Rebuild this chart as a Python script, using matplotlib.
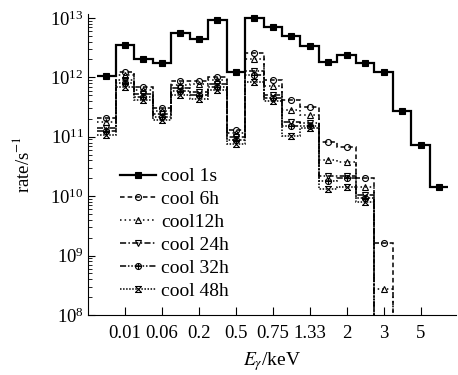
import matplotlib
matplotlib.use('Agg')
import matplotlib.pyplot as plt
import numpy as np
from matplotlib.path import Path

plt.rcParams['font.family'] = ['Liberation Serif', 'DejaVu Serif']
plt.rcParams['mathtext.fontset'] = 'stix'

# energy bin tick labels (every second bin)
tick_labels = ['0.01', '0.06', '0.2', '0.5', '0.75', '1.33', '2', '3', '5']
tick_bins = [1, 3, 5, 7, 9, 11, 13, 15, 17]

# rate per bin (s^-1)
cool_1s = [1.05e12, 3.5e12, 2.05e12, 1.75e12, 5.6e12, 4.4e12, 9.3e12, 1.23e12,
           1.0e13, 7.1e12, 5.0e12, 3.4e12, 1.8e12, 2.4e12, 1.75e12, 1.24e12,
           2.7e11, 7.2e10, 1.43e10]
cool_6h = [2.1e11, 1.24e12, 6.9e11, 3.05e11, 8.7e11, 8.7e11, 1.0e12, 1.3e11,
           2.6e12, 9.0e11, 4.2e11, 3.2e11, 8.1e10, 6.7e10, 2.0e10, 1.6e9]
cool_12h = [1.8e11, 1.1e12, 6.1e11, 2.7e11, 7.4e11, 7.7e11, 9.0e11, 1.17e11,
            2.0e12, 7.2e11, 2.8e11, 2.3e11, 4.1e10, 3.7e10, 1.4e10, 2.75e8]
cool_24h = [1.4e11, 9.0e11, 5.2e11, 2.4e11, 6.6e11, 5.7e11, 7.7e11, 1.0e11,
            1.28e12, 5.1e11, 1.8e11, 1.7e11, 2.2e10, 2.2e10, 1.05e10]
cool_32h = [1.25e11, 8.0e11, 4.7e11, 2.15e11, 5.9e11, 5.1e11, 6.9e11, 8.9e10,
            1.1e12, 4.5e11, 1.5e11, 1.5e11, 1.8e10, 2.0e10, 9.4e9]
cool_48h = [1.07e11, 6.9e11, 4.2e11, 1.9e11, 5.1e11, 4.3e11, 6.1e11, 7.6e10,
            8.4e11, 4.0e11, 1.03e11, 1.4e11, 1.3e10, 1.4e10, 8.0e9]

# custom markers: circled plus and barred cross
circ = Path.unit_circle()
plus = Path([(-1, 0), (1, 0), (0, -1), (0, 1)],
            [Path.MOVETO, Path.LINETO, Path.MOVETO, Path.LINETO])
oplus = Path.make_compound_path(circ, plus)
xbar = Path([(-1, -1), (1, 1), (-1, 1), (1, -1), (-1, 1), (1, 1), (-1, -1), (1, -1)],
            [Path.MOVETO, Path.LINETO, Path.MOVETO, Path.LINETO,
             Path.MOVETO, Path.LINETO, Path.MOVETO, Path.LINETO])

series = [
    ('cool 1s', cool_1s, '-', 's', 'k', 1.6, 4.8),
    ('cool 6h', cool_6h, (0, (3, 2)), 'o', 'none', 1.1, 4.3),
    ('cool12h', cool_12h, (0, (1, 2)), '^', 'none', 1.1, 4.3),
    ('cool 24h', cool_24h, (0, (4, 1.5, 1, 1.5)), 'v', 'none', 1.1, 4.3),
    ('cool 32h', cool_32h, (0, (4, 1.2, 1, 1.2, 1, 1.2)), oplus, 'none', 1.1, 4.3),
    ('cool 48h', cool_48h, (0, (1, 1)), xbar, 'none', 1.1, 4.3),
]

fig = plt.figure(figsize=(4.58, 3.75), dpi=100)
ax = fig.add_axes([0.192, 0.16, 0.803, 0.803])

for label, vals, ls, mk, mfc, lw, ms in series:
    v = np.array(vals, dtype=float)
    n = len(v)
    if label != 'cool 1s':
        v_line = np.append(v, 1e3)  # drop to zero after last bin
    else:
        v_line = v
    edges = np.arange(len(v_line) + 1) - 0.5
    ax.stairs(v_line, edges, baseline=None, color='k', linestyle=ls, linewidth=lw)
    ax.plot(np.arange(n), v, linestyle='none', marker=mk, color='k',
            markerfacecolor=mfc, markersize=ms, markeredgewidth=0.8)
    ax.plot([], [], linestyle=ls, marker=mk, color='k', markerfacecolor=mfc,
            markersize=ms, markeredgewidth=0.8, linewidth=lw, label=label)

ax.set_yscale('log')
ax.set_ylim(1e8, 1.17e13)
ax.set_xlim(-1.0, 18.9)
ax.set_xticks(tick_bins)
ax.set_xticklabels(tick_labels)
ax.spines['top'].set_visible(False)
ax.spines['right'].set_visible(False)
ax.tick_params(axis='both', which='both', direction='in', labelsize=13.5)
ax.tick_params(axis='x', length=6, pad=7)
ax.tick_params(axis='y', which='major', length=5, pad=3)
ax.tick_params(axis='y', which='minor', length=3)
ax.tick_params(axis='x', which='minor', bottom=False)

ax.set_xlabel(r'$E_\gamma$/keV', fontsize=14, labelpad=6)
ax.set_ylabel(r'rate/s$^{-1}$', fontsize=13.5)
ax.yaxis.set_label_coords(-0.15, 0.5)

ax.legend(loc='upper left', bbox_to_anchor=(0.065, 0.515), frameon=False,
          fontsize=14, numpoints=1, handlelength=1.85, handletextpad=0.3,
          labelspacing=0.27, borderaxespad=0)

fig.savefig('out.png', dpi=100)
